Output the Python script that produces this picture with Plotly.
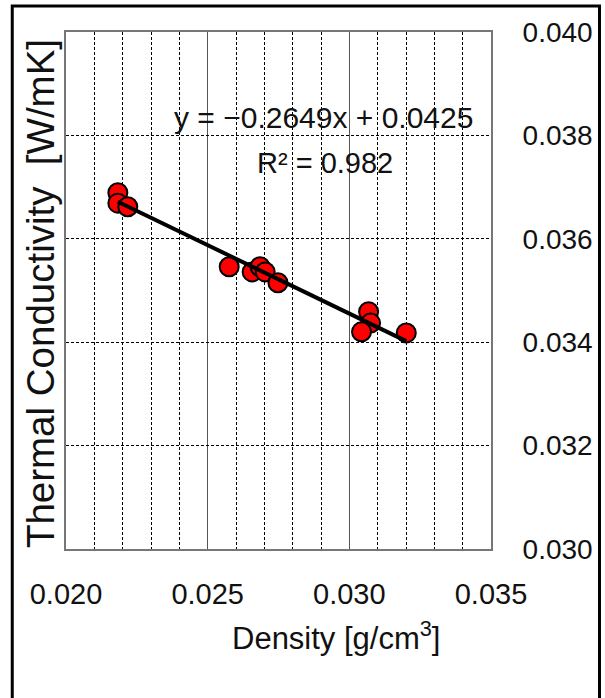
import plotly.graph_objects as go

# ---- data ----
density = [0.02183, 0.02183, 0.02218, 0.02576, 0.02657, 0.02685, 0.02703,
           0.02748, 0.03068, 0.03075, 0.03043, 0.03201]
conductivity = [0.03689, 0.03669, 0.03662, 0.03546, 0.03536, 0.03546, 0.03536,
                0.03515, 0.03459, 0.03437, 0.03420, 0.03418]
fit_slope = -0.2649
fit_intercept = 0.0425
equation_text = "y = −0.2649x + 0.0425"
r2_text = "R² = 0.982"
x_title = "Density [g/cm<sup>3</sup>]"
y_title = "Thermal Conductivity  [W/mK]"

# ---- layout geometry (pixels) ----
W, H = 605, 698
L, R, T, B = 66, 493, 32, 549
pw, ph = R - L, B - T


def px(xp):
    return (xp - L) / pw


def py(yp):
    return (B - yp) / ph


FONT = "Liberation Sans, Arial, sans-serif"

fit_x = [min(density), max(density)]
fit_y = [fit_slope * v + fit_intercept for v in fit_x]

fig = go.Figure()
fig.add_trace(go.Scatter(
    x=density, y=conductivity, mode="markers",
    marker=dict(size=19, color="#ff0000", line=dict(color="black", width=2)),
    showlegend=False, hoverinfo="skip"))
fig.add_trace(go.Scatter(
    x=fit_x, y=fit_y, mode="lines",
    line=dict(color="black", width=4),
    showlegend=False, hoverinfo="skip"))

fig.update_layout(
    width=W, height=H,
    margin=dict(l=L, r=W - R, t=T, b=H - B, pad=0),
    paper_bgcolor="white", plot_bgcolor="white",
    font=dict(family=FONT, color="#111", size=28),
    xaxis=dict(
        range=[0.020, 0.035], dtick=0.005, tick0=0.020, tickformat=".3f",
        showgrid=True, gridcolor="#555", gridwidth=1,
        minor=dict(dtick=0.001, showgrid=True, gridcolor="black",
                   griddash="3px,2px", gridwidth=1),
        showline=True, linecolor="#777", linewidth=2, mirror=True,
        ticks="", zeroline=False, ticklabelstandoff=18,
        tickfont=dict(size=29, family=FONT, color="#111"),
    ),
    yaxis=dict(
        range=[0.030, 0.040], dtick=0.002, tick0=0.030, tickformat=".3f",
        side="right",
        showgrid=True, gridcolor="black", griddash="3px,2px", gridwidth=1,
        showline=True, linecolor="#777", linewidth=2, mirror=True,
        ticks="", zeroline=False, ticklabelstandoff=24,
        tickfont=dict(size=28, family=FONT, color="#111"),
    ),
    shapes=[
        dict(type="rect", xref="paper", yref="paper",
             x0=px(171), x1=px(483), y0=py(190), y1=py(87),
             fillcolor="white", line=dict(width=0), layer="between"),
        dict(type="rect", xref="paper", yref="paper",
             x0=px(12), x1=px(602), y0=py(704), y1=py(6),
             line=dict(color="black", width=3), fillcolor="rgba(0,0,0,0)",
             layer="above"),
    ],
    annotations=[
        dict(text=equation_text, xref="paper", yref="paper",
             x=px(325), y=py(117), xanchor="center", yanchor="middle",
             showarrow=False, font=dict(size=30, family=FONT, color="#111")),
        dict(text=r2_text, xref="paper", yref="paper",
             x=px(326), y=py(163), xanchor="center", yanchor="middle",
             showarrow=False, font=dict(size=29, family=FONT, color="#111")),
        dict(text=x_title, xref="paper", yref="paper",
             x=px(337), y=py(636), xanchor="center", yanchor="middle",
             showarrow=False, font=dict(size=31, family=FONT, color="#111")),
        dict(text=y_title, xref="paper", yref="paper",
             x=px(40), y=py(294), xanchor="center", yanchor="middle",
             textangle=-90,
             showarrow=False, font=dict(size=38.5, family=FONT, color="#111")),
    ],
)

fig.write_html("out.html",
               config={"displayModeBar": False},
               post_script="document.body.style.margin='0px';document.body.style.padding='0px';")
